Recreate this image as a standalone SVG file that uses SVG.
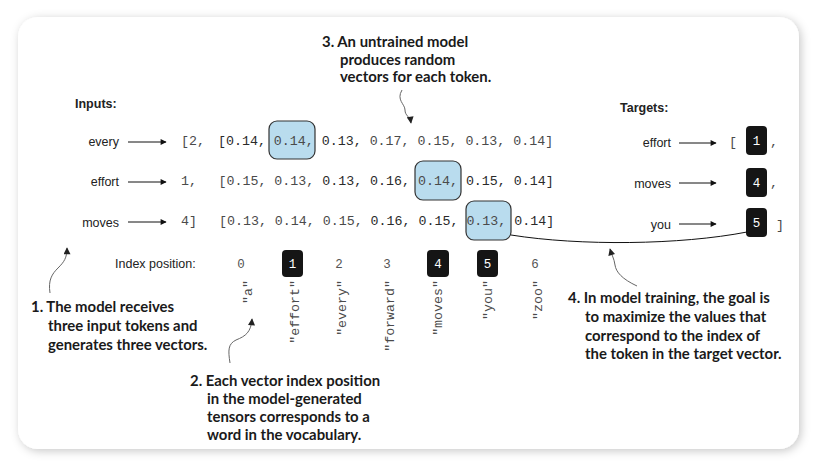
<svg xmlns="http://www.w3.org/2000/svg" width="816" height="467" viewBox="0 0 816 467">
<defs>
<filter id="sh" x="-10%" y="-10%" width="120%" height="120%">
<feDropShadow dx="2" dy="2" stdDeviation="5" flood-color="#000" flood-opacity="0.22"/>
</filter>
<marker id="ah" viewBox="0 0 10 10" refX="9" refY="5" markerWidth="9" markerHeight="6" markerUnits="userSpaceOnUse" orient="auto">
<path d="M0,0 L10,5 L0,10 z" fill="#111"/>
</marker>
<marker id="ah2" viewBox="0 0 10 10" refX="9" refY="5" markerWidth="8" markerHeight="7" markerUnits="userSpaceOnUse" orient="auto">
<path d="M0,0 L10,5 L0,10 z" fill="#222"/>
</marker>
</defs>
<style>
.lbl{font-family:"Liberation Sans",Arial,sans-serif;font-size:12.5px;fill:#222}
.hd{font-family:"Liberation Sans",Arial,sans-serif;font-size:12.5px;font-weight:bold;fill:#222}
.mono{font-family:"Liberation Mono","Courier New",monospace;font-size:13.3px;fill:#2a2a2a}
.lt{fill:#4a4a4a}
.idx{font-family:"Liberation Mono","Courier New",monospace;font-size:12.5px;fill:#555}
.wt{font-family:"Liberation Mono","Courier New",monospace;font-size:12.5px;fill:#fff}
.ann{font-family:Lato,"Open Sans",sans-serif;font-size:14.9px;font-weight:bold;fill:#1a1a1a}
.blue{fill:#b9dcee;stroke:#333;stroke-width:1.2}
.blk{fill:#151515}
.arr{stroke:#111;stroke-width:1;fill:none}
.cur{stroke:#666;stroke-width:1;fill:none}
</style>
<rect x="0" y="0" width="816" height="467" fill="#fff"/>
<rect x="18" y="17" width="781" height="432" rx="20" fill="#fff" filter="url(#sh)"/>

<g id="inputs">
<text class="hd" x="75" y="108">Inputs:</text>
<text class="lbl" x="119" y="146" text-anchor="end">every</text>
<text class="lbl" x="119" y="186" text-anchor="end">effort</text>
<text class="lbl" x="119" y="227" text-anchor="end">moves</text>
<text class="mono lt" x="181" y="145">[2,</text>
<text class="mono lt" x="181" y="185">1,</text>
<text class="mono lt" x="181" y="225">4]</text>
</g>

<g id="vectors">
<rect class="blue" x="269" y="121" width="46" height="38" rx="8"/>
<rect class="blue" x="415" y="161" width="46" height="39" rx="8"/>
<rect class="blue" x="466" y="201" width="45" height="39" rx="8"/>
<text class="mono" x="218" y="145" xml:space="preserve">[0.14, <tspan class="lt">0.14,</tspan> 0.13, <tspan class="lt">0.17, 0.15, 0.13, 0.14]</tspan></text>
<text class="mono" x="218.5" y="185" xml:space="preserve"><tspan class="lt">[0.15, 0.13,</tspan> 0.13, 0.16, <tspan class="lt">0.14,</tspan> 0.15, 0.14]</text>
<text class="mono" x="219" y="225" xml:space="preserve"><tspan class="lt">[0.13, 0.14, 0.15,</tspan> 0.16, 0.15, <tspan class="lt">0.13,</tspan> 0.14]</text>
</g>

<g id="targets">
<text class="hd" x="620" y="112">Targets:</text>
<text class="lbl" x="671" y="147" text-anchor="end">effort</text>
<text class="lbl" x="671" y="188" text-anchor="end">moves</text>
<text class="lbl" x="671" y="229" text-anchor="end">you</text>
<text class="mono lt" x="729" y="146">[</text>
<rect class="blk" x="746" y="126" width="21" height="29" rx="4"/>
<rect class="blk" x="746" y="168" width="21" height="29" rx="4"/>
<rect class="blk" x="746" y="208" width="21" height="29" rx="4"/>
<text class="wt" x="756.5" y="145" text-anchor="middle">1</text>
<text class="wt" x="756.5" y="187" text-anchor="middle">4</text>
<text class="wt" x="756.5" y="227" text-anchor="middle">5</text>
<text class="mono lt" x="770" y="146">,</text>
<text class="mono lt" x="770" y="187">,</text>
<text class="mono lt" x="776" y="229">]</text>
</g>

<g id="index">
<text class="lbl" x="115" y="268">Index position:</text>
<rect class="blk" x="282" y="250" width="21" height="27" rx="4"/>
<rect class="blk" x="427" y="250" width="22" height="27" rx="4"/>
<rect class="blk" x="477" y="250" width="21" height="27" rx="4"/>
<text class="idx" x="241" y="268" text-anchor="middle">0</text>
<text class="wt" x="292.5" y="268" text-anchor="middle">1</text>
<text class="idx" x="339" y="268" text-anchor="middle">2</text>
<text class="idx" x="387" y="268" text-anchor="middle">3</text>
<text class="wt" x="438" y="268" text-anchor="middle">4</text>
<text class="wt" x="487.5" y="268" text-anchor="middle">5</text>
<text class="idx" x="535" y="268" text-anchor="middle">6</text>
</g>

<g id="vocab">
<text class="mono lt" text-anchor="end" transform="translate(251.5,280) rotate(-90)">"a"</text>
<text class="mono lt" text-anchor="end" transform="translate(298.5,280) rotate(-90)">"effort"</text>
<text class="mono lt" text-anchor="end" transform="translate(345.5,280) rotate(-90)">"every"</text>
<text class="mono lt" text-anchor="end" transform="translate(393.5,280) rotate(-90)">"forward"</text>
<text class="mono lt" text-anchor="end" transform="translate(441.5,280) rotate(-90)">"moves"</text>
<text class="mono lt" text-anchor="end" transform="translate(491.5,280) rotate(-90)">"you"</text>
<text class="mono lt" text-anchor="end" transform="translate(541.5,280) rotate(-90)">"zoo"</text>
</g>

<g id="annotation1">
<text class="ann" x="31" y="312">1. The model receives</text>
<text class="ann" x="48" y="331">three input tokens and</text>
<text class="ann" x="48" y="350">generates three vectors.</text>
</g>
<g id="annotation2">
<text class="ann" x="190" y="386">2. Each vector index position</text>
<text class="ann" x="207" y="404">in the model-generated</text>
<text class="ann" x="207" y="422">tensors corresponds to a</text>
<text class="ann" x="207" y="440">word in the vocabulary.</text>
</g>
<g id="annotation3">
<text class="ann" x="322" y="47">3. An untrained model</text>
<text class="ann" x="340" y="65">produces random</text>
<text class="ann" x="340" y="82">vectors for each token.</text>
</g>
<g id="annotation4">
<text class="ann" x="568" y="303">4. In model training, the goal is</text>
<text class="ann" x="585" y="322">to maximize the values that</text>
<text class="ann" x="585" y="341">correspond to the index of</text>
<text class="ann" x="585" y="359">the token in the target vector.</text>
</g>

<g id="connectors">
<line class="arr" x1="128" y1="142" x2="166" y2="142" marker-end="url(#ah)"/>
<line class="arr" x1="128" y1="182" x2="166" y2="182" marker-end="url(#ah)"/>
<line class="arr" x1="128" y1="222" x2="166" y2="222" marker-end="url(#ah)"/>
<line class="arr" x1="679" y1="143" x2="716" y2="143" marker-end="url(#ah)"/>
<line class="arr" x1="679" y1="183" x2="716" y2="183" marker-end="url(#ah)"/>
<line class="arr" x1="679" y1="224" x2="716" y2="224" marker-end="url(#ah)"/>
<path class="arr" d="M511,235 C580,246 680,245 747,232" stroke="#333"/>
<path class="cur" d="M402,90 C396,100 405,104 405,110 C405,116 410,116 411,123" marker-end="url(#ah2)"/>
<path class="cur" d="M50,293 C48,280 52,274 58,268 C64,262 67,258 67,248" marker-end="url(#ah2)"/>
<path class="cur" d="M230,363 C228,350 228,344 236,340 C246,336 251,332 252,319" marker-end="url(#ah2)"/>
<path class="cur" d="M637,286 C622,279 616,272 615,265 C614,258 612,256 610,249" marker-end="url(#ah2)"/>
</g>
</svg>
